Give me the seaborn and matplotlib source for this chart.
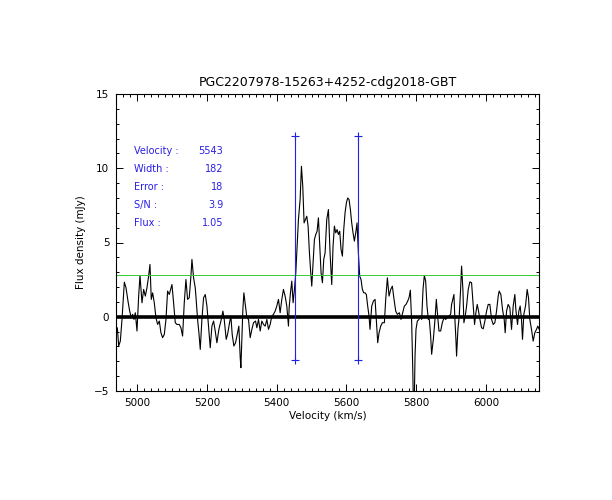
import matplotlib
matplotlib.use('Agg')
import matplotlib.pyplot as plt
from matplotlib.ticker import MultipleLocator
import pandas as pd
import seaborn as sns

# spectrum (km/s, mJy)
vel = [4943.0, 4946.9, 4951.6, 4956.4, 4963.1, 4967.9, 4973.6, 4978.4, 4983.1, 4987.0,
       4990.8, 4994.6, 4999.4, 5004.2, 5008.0, 5013.7, 5018.5, 5023.3, 5028.0, 5032.8,
       5036.6, 5040.4, 5044.3, 5049.0, 5053.8, 5058.6, 5063.4, 5068.1, 5072.9, 5077.7,
       5082.5, 5087.2, 5092.0, 5095.8, 5099.7, 5104.4, 5109.2, 5114.0, 5120.7, 5125.4,
       5130.2, 5135.0, 5139.8, 5144.5, 5149.3, 5154.1, 5157.0, 5161.7, 5166.5, 5168.4,
       5173.2, 5177.0, 5180.9, 5185.6, 5190.4, 5195.2, 5200.0, 5204.7, 5209.5, 5214.3,
       5219.1, 5223.8, 5228.6, 5234.3, 5240.1, 5245.8, 5249.6, 5255.3, 5259.2, 5264.9,
       5268.7, 5272.5, 5277.3, 5282.1, 5286.9, 5291.6, 5295.5, 5297.4, 5300.2, 5303.1,
       5306.0, 5310.7, 5314.6, 5319.3, 5324.1, 5328.9, 5333.7, 5339.4, 5343.2, 5348.0,
       5352.8, 5357.5, 5362.3, 5367.1, 5371.9, 5376.6, 5381.4, 5386.1, 5390.9, 5395.7,
       5400.4, 5405.2, 5410.0, 5414.8, 5419.5, 5424.3, 5429.1, 5433.9, 5435.8, 5439.6,
       5443.4, 5447.2, 5451.0, 5454.9, 5457.7, 5462.5, 5467.3, 5471.1, 5474.9, 5478.7,
       5482.6, 5486.4, 5490.2, 5494.0, 5497.8, 5500.7, 5504.5, 5508.3, 5512.2, 5516.0,
       5519.8, 5523.6, 5527.4, 5531.3, 5535.1, 5538.9, 5543.7, 5548.5, 5553.2, 5558.0,
       5561.8, 5565.6, 5569.5, 5573.3, 5577.1, 5580.9, 5584.7, 5588.6, 5592.4, 5596.2,
       5600.0, 5603.8, 5607.7, 5611.5, 5615.3, 5619.1, 5622.9, 5626.8, 5630.6, 5634.4,
       5638.2, 5642.0, 5645.9, 5649.7, 5653.5, 5657.3, 5661.1, 5665.0, 5667.8, 5672.7,
       5677.5, 5682.3, 5687.0, 5689.9, 5693.7, 5698.5, 5703.3, 5709.0, 5712.8, 5717.6,
       5722.4, 5727.1, 5731.9, 5736.7, 5741.5, 5746.2, 5752.0, 5756.7, 5761.5, 5766.3,
       5771.1, 5775.8, 5779.7, 5783.5, 5787.3, 5790.2, 5792.1, 5794.9, 5796.9, 5799.7,
       5803.5, 5808.3, 5812.1, 5816.0, 5819.8, 5823.6, 5827.4, 5831.2, 5835.1, 5837.9,
       5841.7, 5844.6, 5849.4, 5854.2, 5858.0, 5861.8, 5865.6, 5870.4, 5875.2, 5879.9,
       5884.7, 5889.5, 5894.3, 5899.0, 5901.8, 5908.5, 5911.3, 5914.2, 5916.1, 5919.9,
       5923.7, 5927.6, 5930.4, 5934.2, 5937.1, 5940.9, 5944.8, 5949.5, 5954.3, 5959.1,
       5963.9, 5967.7, 5971.5, 5975.3, 5979.1, 5983.0, 5987.7, 5992.5, 5997.3, 6002.1,
       6006.8, 6011.6, 6016.4, 6021.2, 6025.9, 6030.7, 6035.5, 6038.3, 6043.1, 6047.9,
       6052.7, 6055.5, 6059.4, 6064.1, 6068.9, 6073.7, 6078.5, 6083.2, 6086.1, 6090.9,
       6094.7, 6098.5, 6102.3, 6105.2, 6109.0, 6113.8, 6118.6, 6122.4, 6126.2, 6131.0,
       6135.8, 6140.5, 6145.3, 6149.1, 6153.0]
flux = [-0.74, -1.97, -1.64, -0.18, 2.33, 1.95, 1.05, 0.38, -0.07, 0.16,
        -0.18, 0.27, -0.96, 1.39, 2.78, 0.94, 1.84, 1.39, 1.95, 2.74,
        3.52, 1.17, 1.61, 0.94, -0.07, -0.52, -0.29, -1.08, -1.41, -1.19,
        -0.18, 1.73, 1.50, 1.84, 2.17, 0.94, -0.40, -0.52, -0.52, -0.74,
        -1.30, 0.94, 2.51, 1.17, 1.28, 2.74, 3.86, 2.62, 1.95, 1.39,
        -0.18, -1.08, -2.20, -0.18, 1.28, 1.50, 0.72, -0.63, -2.09, -0.63,
        -0.29, -0.96, -1.75, -0.85, -0.29, 0.38, -0.18, -1.52, -1.19, -0.40,
        0.04, -1.19, -1.97, -1.75, -1.19, -0.63, -2.76, -3.43, -1.52, 0.49,
        1.61, 0.72, -0.07, -0.18, -1.41, -0.85, -0.40, -0.29, -0.74, -0.18,
        -0.96, -0.29, -0.52, -0.63, -0.18, -0.85, -0.52, 0.04, 0.16, 0.38,
        0.72, 1.17, 0.27, 1.17, 1.84, 1.39, 0.72, -0.63, 0.61, 1.61,
        2.40, 0.94, 1.84, 2.96, 4.30, 6.55, 7.89, 10.13, 8.79, 6.32,
        6.55, 6.77, 6.10, 4.30, 2.96, 2.06, 3.63, 5.20, 5.54, 5.76,
        6.66, 4.75, 2.96, 2.29, 3.86, 4.30, 6.55, 7.22, 4.30, 2.17,
        4.75, 6.10, 5.65, 5.87, 5.54, 5.76, 4.53, 4.08, 5.87, 7.00,
        7.67, 8.00, 7.89, 7.22, 6.32, 5.65, 5.09, 5.65, 6.32, 4.30,
        2.74, 2.51, 1.84, 1.61, 1.61, 1.50, 0.72, 0.04, -0.85, 0.72,
        1.05, 1.17, -0.63, -1.75, -1.08, -0.63, -0.40, -0.40, 1.17, 2.62,
        1.39, 1.84, 2.06, 1.17, 0.38, 0.16, 0.27, -0.18, 0.27, 0.72,
        0.83, 1.05, 1.28, 1.79, -0.40, -3.32, -5.60, -5.60, -2.65, -0.85,
        -0.29, -0.18, 0.04, -0.18, 1.84, 2.78, 2.40, 0.72, -0.18, -0.18,
        -1.30, -2.53, -1.52, -0.18, 1.17, 0.04, -0.96, -0.96, -0.40, -0.07,
        -0.18, -0.07, 0.04, 0.16, 0.83, 1.50, -0.18, -1.52, -2.65, -0.85,
        0.04, 1.84, 3.41, 1.84, -0.40, 0.04, 0.72, 1.84, 2.35, 2.29,
        0.72, -0.52, 0.27, 0.83, 0.38, -0.18, -0.74, -0.81, -0.29, 0.38,
        0.83, 0.83, -0.18, -0.52, -0.40, 0.38, 1.39, 1.73, 1.50, 0.49,
        -0.18, -1.08, 0.38, 0.83, 0.61, -0.85, 0.72, 1.50, 0.49, -0.52,
        0.38, 0.72, -0.18, -1.52, 0.16, 0.72, 1.84, 1.28, -0.18, -0.85,
        -1.64, -1.08, -0.85, -0.63, -0.85]

# measurement results
title = 'PGC2207978-15263+4252-cdg2018-GBT'
edges = [5452, 5634]
edge_lo = -2.9
edge_hi = 12.2
thresh = 2.8
labels = ['Velocity :', 'Width :', 'Error :', 'S/N :', 'Flux :']
values = ['5543', '182', '18', '3.9', '1.05']

spec = pd.DataFrame({'vel': vel, 'flux': flux})

sns.set_style('ticks')
plt.rcParams['font.family'] = ['DejaVu Sans']
plt.rcParams['text.color'] = 'black'
plt.rcParams['axes.labelcolor'] = 'black'
plt.rcParams['axes.edgecolor'] = 'black'
plt.rcParams['xtick.color'] = 'black'
plt.rcParams['ytick.color'] = 'black'

fig = plt.figure(figsize=(6.12, 5.0), dpi=100)
ax = fig.add_axes([0.190, 0.218, 0.691, 0.594])

sns.lineplot(data=spec, x='vel', y='flux', estimator=None, sort=False,
             color='black', linewidth=0.8, ax=ax)
ax.axhline(0, color='black', linewidth=2.6, zorder=3)
ax.axhline(thresh, color='#33cc33', linewidth=0.7, zorder=2)
for e in edges:
    ax.plot([e, e], [edge_lo, edge_hi], color='#2222dd', linewidth=0.8,
            marker='+', markersize=6, markeredgewidth=0.8, zorder=4)

for i, (lab, val) in enumerate(zip(labels, values)):
    yy = 0.808 - i * 0.0605
    ax.text(0.042, yy, lab, transform=ax.transAxes, color='#2a1ee6',
            fontsize=7, va='center', ha='left')
    ax.text(0.253, yy, val, transform=ax.transAxes, color='#2a1ee6',
            fontsize=7, va='center', ha='right')

ax.set_xlim(4940, 6153)
ax.set_ylim(-5, 15)
ax.xaxis.set_major_locator(MultipleLocator(200))
ax.xaxis.set_minor_locator(MultipleLocator(20))
ax.yaxis.set_major_locator(MultipleLocator(5))
ax.yaxis.set_minor_locator(MultipleLocator(1))
ax.tick_params(which='both', direction='in', top=True, right=True,
               width=0.7, labelsize=7.5, pad=5)
ax.tick_params(which='major', length=5)
ax.tick_params(which='minor', length=2.5)
for s in ax.spines.values():
    s.set_linewidth(0.8)

ax.set_xlabel('Velocity (km/s)', fontsize=7.5, labelpad=2)
ax.set_ylabel('Flux density (mJy)', fontsize=7.5, labelpad=6)
ax.set_title(title, fontsize=9, pad=6)

fig.savefig('out.png', dpi=100)
